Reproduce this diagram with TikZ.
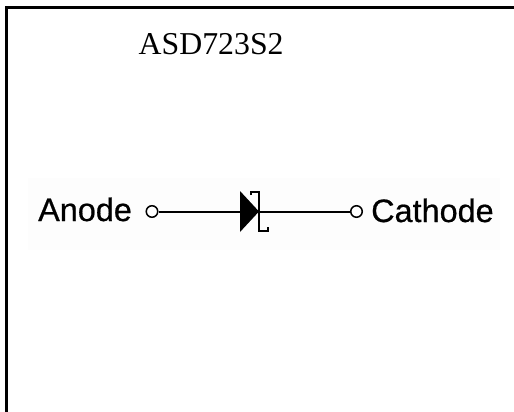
\documentclass[tikz,border=0pt]{standalone}
\usepackage{fontspec}
\setmainfont{Liberation Serif}
\newfontfamily\lblfont[FakeBold=0.6]{Liberation Sans}
\definecolor{haze}{gray}{0.993}
\tikzset{
  wire/.style={draw=black,line width=2pt},
  term/.style={circle,draw=black,fill=white,line width=1.5pt,minimum size=11.5pt,inner sep=0pt},
  lbl/.style={font=\lblfont\fontsize{32.4}{36}\selectfont,text=black,inner sep=0pt},
  titletext/.style={font=\fontsize{31.8}{36}\selectfont,text=black,inner sep=0pt}
}
\begin{document}
\begin{tikzpicture}[x=1pt,y=-1pt]
\useasboundingbox (0,0) rectangle (514,412);
\fill[white] (0,0) rectangle (514,412);
\fill[haze] (28,178) rectangle (500,250);
\draw[line width=3pt] (6,412) -- (6,8) -- (514,8);
\node[titletext,anchor=base west] (title) at (138.5,55) {ASD723S2};
\node[lbl,anchor=base west] (anode) at (38,221) {Anode};
\node[lbl,anchor=base west] (cathode) at (371,222) {Cathode};
\node[term] (ta) at (152,211.5) {};
\node[term] (tc) at (356.5,211.5) {};
\coordinate (dk) at (258,211.5);
\draw[wire] (ta) -- (dk) -- (tc);
\fill[black] (240,191) -- (259,211.5) -- (240,232) -- cycle;
\draw[line width=2pt] (250.5,195) -- (250.5,192) -- (258.5,192) -- (258.5,230.5) -- (268,230.5) -- (268,227);
\end{tikzpicture}
\end{document}
